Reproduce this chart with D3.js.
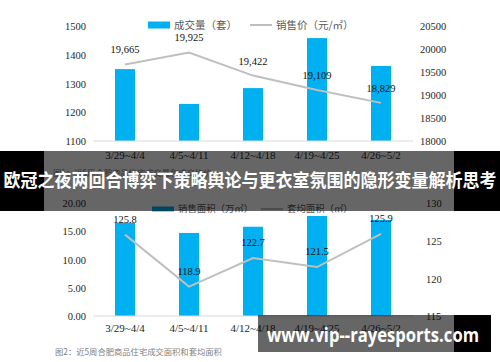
<!DOCTYPE html>
<html>
<head>
<meta charset="utf-8">
<script src="https://cdn.jsdelivr.net/npm/d3@7"></script>
<style>
body { margin: 0; background: #fff; }
svg { display: block; }
.leg { font-family: "Noto Sans CJK SC", sans-serif; fill: #595959; }
.cap { font-family: "Noto Sans CJK SC", sans-serif; font-size: 8.3px; fill: #808080; }
</style>
</head>
<body>
<svg id="chart" width="500" height="362"></svg>
<script>
/************************************ Data *******************************/
var weeks = ["3/29~4/4", "4/5~4/11", "4/12~4/18", "4/19~4/25", "4/26~5/2"];
var dealCount = [1350, 1229, 1284, 1458, 1361];
var dealPrice = [19665, 19925, 19422, 19109, 18829];
var saleArea = [16.5, 14.7, 15.8, 17.7, 17.0];
var avgArea = [125.8, 118.9, 122.7, 121.5, 125.9];

var countTicks = [1100, 1200, 1300, 1400, 1500];
var priceTicks = [18000, 18500, 19000, 19500, 20000, 20500];
var areaTicks = [0, 5, 10, 15, 20];
var avgTicks = [115, 120, 125, 130];

var bannerText = "欧冠之夜两回合博弈下策略舆论与更衣室氛围的隐形变量解析思考";
var siteText = "www.vip--rayesports.com";

var BLUE = "#00b0f0", GREY = "#bfbfbf", SERIF = "'Liberation Serif', serif";
var svg = d3.select("#chart");
svg.append("rect").attr("width", 500).attr("height", 362).attr("fill", "#fff");

function serifText(sel, size, color) {
	sel.style("font-family", SERIF).style("font-size", size + "px").attr("fill", color);
}

/************************************ Chart builder *******************************/
function drawChart(o) {
	var g = svg.append("g");
	var x = d3.scaleBand().domain(weeks).range([93, 413])
		.paddingInner(0.6875).paddingOuter(0.34375);
	var yL = d3.scaleLinear().domain(o.leftDomain).range([o.bottom, o.top]);
	var yR = d3.scaleLinear().domain(o.rightDomain).range([o.bottom, o.top]);

	g.selectAll("rect.bar").data(o.bars).enter().append("rect")
		.attr("class", "bar")
		.attr("x", function(d, i) { return x(weeks[i]); })
		.attr("y", function(d) { return yL(d); })
		.attr("width", x.bandwidth())
		.attr("height", function(d) { return yL(o.leftDomain[0]) - yL(d); })
		.attr("fill", BLUE);

	g.append("line").attr("x1", 93).attr("x2", 413)
		.attr("y1", o.bottom).attr("y2", o.bottom)
		.attr("stroke", "#d9d9d9").attr("stroke-width", 1);

	var ax = d3.axisLeft(yL).tickValues(o.leftTicks).tickSize(0).tickPadding(0).tickFormat(o.leftFmt);
	var gl = g.append("g").attr("transform", "translate(86,0)").call(ax);
	gl.select(".domain").remove();
	gl.selectAll("text").attr("dy", "0.35em").call(serifText, 10.5, "#262626");

	var ar = d3.axisRight(yR).tickValues(o.rightTicks).tickSize(0).tickPadding(0).tickFormat(d3.format("d"));
	var gr = g.append("g").attr("transform", "translate(" + o.rightX + ",0)").call(ar);
	gr.select(".domain").remove();
	gr.selectAll("text").attr("dy", "0.35em").call(serifText, 10.5, "#262626");

	var ab = d3.axisBottom(x).tickSize(0).tickPadding(0);
	var gb = g.append("g").attr("transform", "translate(0," + o.catY + ")").call(ab);
	gb.select(".domain").remove();
	gb.selectAll("text").attr("dy", 0).call(serifText, 11, "#262626");

	var line = d3.line()
		.x(function(d, i) { return x(weeks[i]) + x.bandwidth() / 2; })
		.y(function(d) { return yR(d); });
	g.append("path").datum(o.points).attr("d", line)
		.attr("fill", "none").attr("stroke", GREY).attr("stroke-width", 2);

	g.selectAll("text.lbl").data(o.points).enter().append("text")
		.attr("class", "lbl")
		.attr("text-anchor", "middle")
		.attr("x", function(d, i) { return x(weeks[i]) + x.bandwidth() / 2; })
		.attr("y", function(d) { return yR(d) - o.lblOff; })
		.call(serifText, 10.5, "#111")
		.text(o.lblFmt);

	// legend
	var lg = g.append("g");
	lg.append("rect").attr("x", o.leg.x).attr("y", o.leg.y - o.leg.h / 2)
		.attr("width", 22).attr("height", o.leg.h).attr("fill", BLUE);
	lg.append("text").attr("class", "leg").style("font-size", o.leg.fs + "px")
		.attr("x", o.leg.x + 26).attr("y", o.leg.y).attr("dy", "0.35em").text(o.leg.barName);
	lg.append("line").attr("x1", o.leg.lx).attr("x2", o.leg.lx + 22)
		.attr("y1", o.leg.y).attr("y2", o.leg.y).attr("stroke", GREY).attr("stroke-width", 2);
	lg.append("text").attr("class", "leg").style("font-size", o.leg.fs + "px")
		.attr("x", o.leg.lx + 26).attr("y", o.leg.y).attr("dy", "0.35em").text(o.leg.lineName);

	g.append("text").attr("class", "cap").attr("x", o.capX).attr("y", o.capY)
		.attr("dy", "0.35em").text(o.caption);
}

drawChart({
	top: 26, bottom: 141, catY: 159, rightX: 420,
	bars: dealCount, points: dealPrice,
	leftDomain: [1100, 1500], rightDomain: [18000, 20500],
	leftTicks: countTicks, rightTicks: priceTicks,
	leftFmt: d3.format("d"),
	lblOff: 11, lblFmt: d3.format(","),
	leg: { x: 148, y: 25, h: 7, lx: 250, fs: 10.5, barName: "成交量（套）", lineName: "销售价（元/㎡）" },
	capX: 53, capY: 173, caption: "图1：近5周合肥商品住宅成交量和成交均价"
});

drawChart({
	top: 203, bottom: 316, catY: 332, rightX: 426,
	bars: saleArea, points: avgArea,
	leftDomain: [0, 20], rightDomain: [115, 130],
	leftTicks: areaTicks, rightTicks: avgTicks,
	leftFmt: d3.format(".2f"),
	lblOff: 12, lblFmt: d3.format(".1f"),
	leg: { x: 152, y: 209, h: 5, lx: 261, fs: 9.4, barName: "销售面积（万㎡）", lineName: "套均面积（㎡）" },
	capX: 55, capY: 352, caption: "图2：近5周合肥商品住宅成交面积和套均面积"
});

/************************************ Overlays *******************************/
var ov = svg.append("g");
ov.append("rect").attr("x", 0).attr("y", 151).attr("width", 44).attr("height", 60).attr("fill", "#000");
ov.append("rect").attr("x", 454).attr("y", 151).attr("width", 46).attr("height", 60).attr("fill", "#000");
ov.append("rect").attr("x", 44).attr("y", 151).attr("width", 410).attr("height", 60).attr("fill", "rgba(0,0,0,0.6)");
ov.append("text").attr("x", 250).attr("y", 187).attr("text-anchor", "middle")
	.attr("textLength", 493).attr("lengthAdjust", "spacingAndGlyphs")
	.style("font-family", "'Noto Sans CJK SC', sans-serif").style("font-weight", "bold")
	.style("font-size", "18.3px").attr("fill", "#fff").text(bannerText);

ov.append("rect").attr("x", 258).attr("y", 315).attr("width", 196).attr("height", 37).attr("fill", "rgba(0,0,0,0.6)");
ov.append("rect").attr("x", 454).attr("y", 315).attr("width", 37).attr("height", 37).attr("fill", "#000");
ov.append("text").attr("x", 267).attr("y", 342)
	.attr("textLength", 212).attr("lengthAdjust", "spacingAndGlyphs")
	.style("font-family", "'Open Sans', sans-serif").style("font-weight", "bold")
	.style("font-size", "19px").attr("fill", "#fff").text(siteText);
</script>
</body>
</html>
